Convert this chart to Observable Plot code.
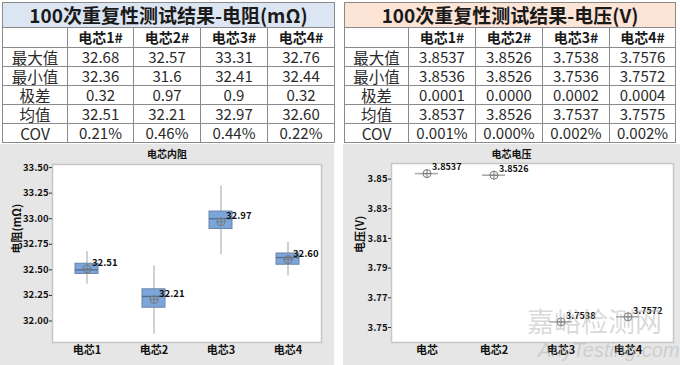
<!DOCTYPE html>
<html>
<head>
<meta charset="utf-8">
<script src="https://cdn.jsdelivr.net/npm/d3@7"></script>
<script src="https://cdn.jsdelivr.net/npm/@observablehq/plot@0.6"></script>
<style>
  html, body { margin: 0; padding: 0; background: #fff; }
  body { width: 680px; height: 365px; position: relative; overflow: hidden;
         font-family: "Noto Sans CJK SC", "Noto Sans", sans-serif; }
  table { position: absolute; border-collapse: collapse; table-layout: fixed; color: #1a1a1a; }
  td { border: 1px solid #8a8a8a; text-align: center; padding: 0; white-space: nowrap; }
  tr.title td { height: 24px; font-size: 19px; font-weight: bold; line-height: 24px; }
  tr.head td { height: 19px; font-size: 14px; font-weight: bold; line-height: 19px; }
  tr.row td { height: 18px; font-size: 15px; line-height: 18px; color: #2a2a2a; }
  tr.row td.lab { font-size: 15.5px; }
  .panel { position: absolute; background: #e6e6e6; }
  .ctitle { position: absolute; font-size: 10px; font-weight: bold; text-align: center; color: #111; }
  .wm { position: absolute; pointer-events: none; white-space: nowrap; }
</style>
</head>
<body>
<div id="root"></div>
<script>
// ---------- table data ----------
const colHeads = ["电芯1#", "电芯2#", "电芯3#", "电芯4#"];
const rowHeads = ["最大值", "最小值", "极差", "均值", "COV"];
const resTitle = "100次重复性测试结果-电阻(mΩ)";
const volTitle = "100次重复性测试结果-电压(V)";
const resMaxT  = ["32.68", "32.57", "33.31", "32.76"];
const resMinT  = ["32.36", "31.6", "32.41", "32.44"];
const resRngT  = ["0.32", "0.97", "0.9", "0.32"];
const resAvgT  = ["32.51", "32.21", "32.97", "32.60"];
const resCovT  = ["0.21%", "0.46%", "0.44%", "0.22%"];
const volMaxT  = ["3.8537", "3.8526", "3.7538", "3.7576"];
const volMinT  = ["3.8536", "3.8526", "3.7536", "3.7572"];
const volRngT  = ["0.0001", "0.0000", "0.0002", "0.0004"];
const volAvgT  = ["3.8537", "3.8526", "3.7537", "3.7575"];
const volCovT  = ["0.001%", "0.000%", "0.002%", "0.002%"];

// ---------- chart data ----------
const resCells = ["电芯1", "电芯2", "电芯3", "电芯4"];
const resWhiskLo = [32.36, 31.87, 32.65, 32.44];
const resQ1      = [32.46, 32.13, 32.90, 32.55];
const resMedian  = [32.50, 32.24, 33.00, 32.62];
const resQ3      = [32.56, 32.31, 33.07, 32.66];
const resWhiskHi = [32.68, 32.54, 33.32, 32.77];
const resMean    = [32.51, 32.21, 32.97, 32.60];
const resTicks   = [32.00, 32.25, 32.50, 32.75, 33.00, 33.25, 33.50];

const volCells  = ["电芯", "电芯2", "电芯3", "电芯4"];
const volMean   = [3.8537, 3.8526, 3.7538, 3.7572];
const volLabels = ["3.8537", "3.8526", "3.7538", "3.7572"];
const volTicks  = [3.75, 3.77, 3.79, 3.81, 3.83, 3.85];

const FONT = "'Noto Sans CJK SC', 'Noto Sans', sans-serif";
const root = document.getElementById("root");

function makeTable(left, widths, title, titleBg, rows) {
  const t = document.createElement("table");
  t.style.left = left + "px";
  t.style.top = "2px";
  t.style.width = widths.reduce((a, b) => a + b, 0) + "px";
  const cg = document.createElement("colgroup");
  widths.forEach(w => { const c = document.createElement("col"); c.style.width = w + "px"; cg.appendChild(c); });
  t.appendChild(cg);
  const tr0 = document.createElement("tr"); tr0.className = "title";
  const td0 = document.createElement("td"); td0.colSpan = 5; td0.textContent = title; td0.style.background = titleBg;
  tr0.appendChild(td0); t.appendChild(tr0);
  const tr1 = document.createElement("tr"); tr1.className = "head";
  [""].concat(colHeads).forEach(h => { const td = document.createElement("td"); td.textContent = h; tr1.appendChild(td); });
  t.appendChild(tr1);
  rows.forEach((vals, i) => {
    const tr = document.createElement("tr"); tr.className = "row";
    const th = document.createElement("td"); th.className = "lab"; th.textContent = rowHeads[i]; tr.appendChild(th);
    vals.forEach(v => { const td = document.createElement("td"); td.textContent = v; tr.appendChild(td); });
    t.appendChild(tr);
  });
  root.appendChild(t);
}

makeTable(2, [65, 66, 67, 67, 67], resTitle, "#dce6f2", [resMaxT, resMinT, resRngT, resAvgT, resCovT]);
makeTable(344, [64, 67, 67, 67, 66], volTitle, "#fce4d6", [volMaxT, volMinT, volRngT, volAvgT, volCovT]);

function panel(left, width) {
  const p = document.createElement("div");
  p.className = "panel";
  p.style.left = left + "px"; p.style.top = "144px";
  p.style.width = width + "px"; p.style.height = "221px";
  root.appendChild(p);
  return p;
}

// ---------- left chart: resistance box plot ----------
const resData = resCells.map((c, i) => ({
  cell: c, lo: resWhiskLo[i], q1: resQ1[i], med: resMedian[i], q3: resQ3[i], hi: resWhiskHi[i],
  mean: resMean[i], label: resMean[i].toFixed(2)
}));

const leftPanel = panel(0, 334);
const leftChart = Plot.plot({
  width: 334, height: 221,
  marginLeft: 52, marginRight: 13, marginTop: 20, marginBottom: 23,
  style: { background: "transparent", fontFamily: FONT, color: "#111", overflow: "visible" },
  x: { type: "band", domain: resCells, padding: 0 },
  y: { domain: [31.79, 33.53] },
  marks: [
    Plot.frame({ fill: "white", stroke: "#c6c6c6", strokeWidth: 1.5 }),
    Plot.axisY({ ticks: resTicks, tickFormat: d3.format(".2f"), tickSize: 3, tickPadding: 1,
                 fontSize: 9.5, fontWeight: "bold", label: null, stroke: "#333" }),
    Plot.axisX({ tickSize: 0, tickPadding: 4, fontSize: 11, fontWeight: "bold", label: null }),
    Plot.text(["电阻(mΩ)"], { text: d => d, frameAnchor: "left", rotate: -90, dx: -35,
                 fontSize: 11, fontWeight: "bold", fill: "#111" }),
    Plot.ruleX(resData, { x: "cell", y1: "lo", y2: "hi", stroke: "#c2c2c2", strokeWidth: 1.5 }),
    Plot.barY(resData, { x: "cell", y1: "q1", y2: "q3", insetLeft: 22, insetRight: 22,
                 fill: "#7aa6dc", stroke: "#6b84a6", strokeWidth: 1 }),
    Plot.tickY(resData, { x: "cell", y: "med", insetLeft: 22, insetRight: 22, stroke: "#56698a", strokeWidth: 1.3 }),
    Plot.dot(resData, { x: "cell", y: "mean", r: 4, symbol: "circle", stroke: "#7a7a7a", strokeWidth: 1, fill: "none" }),
    Plot.dot(resData, { x: "cell", y: "mean", r: 3, symbol: "plus", stroke: "#7a7a7a", strokeWidth: 1 }),
    Plot.text(resData, { x: "cell", y: "mean", text: "label", dx: 5, dy: -6, textAnchor: "start",
                 fontSize: 9.5, fontWeight: "bold", fill: "#111" })
  ]
});
leftPanel.appendChild(leftChart);
const lt = document.createElement("div");
lt.className = "ctitle"; lt.style.left = "0px"; lt.style.width = "334px"; lt.style.top = "2px";
lt.textContent = "电芯内阻";
leftPanel.appendChild(lt);

// ---------- right chart: voltage ----------
const volData = volCells.map((c, i) => ({ cell: c, mean: volMean[i], label: volLabels[i] }));

const rightPanel = panel(343, 337);
const rightChart = Plot.plot({
  width: 337, height: 221,
  marginLeft: 48, marginRight: 7, marginTop: 19, marginBottom: 23,
  style: { background: "transparent", fontFamily: FONT, color: "#111", overflow: "visible" },
  x: { type: "band", domain: volCells, padding: 0, insetRight: 11 },
  y: { domain: [3.7399, 3.8605] },
  marks: [
    Plot.frame({ fill: "white", stroke: "#c6c6c6", strokeWidth: 1.5 }),
    Plot.axisY({ ticks: volTicks, tickFormat: d3.format(".2f"), tickSize: 3, tickPadding: 1,
                 fontSize: 9.5, fontWeight: "bold", label: null, stroke: "#333" }),
    Plot.axisX({ tickSize: 0, tickPadding: 4, fontSize: 11, fontWeight: "bold", label: null }),
    Plot.text(["电压(V)"], { text: d => d, frameAnchor: "left", rotate: -90, dx: -31,
                 fontSize: 11, fontWeight: "bold", fill: "#111" }),
    Plot.tickY(volData, { x: "cell", y: "mean", insetLeft: 22, insetRight: 22, stroke: "#a8a8a8", strokeWidth: 1.5 }),
    Plot.dot(volData, { x: "cell", y: "mean", r: 4, symbol: "circle", stroke: "#7a7a7a", strokeWidth: 1, fill: "none" }),
    Plot.dot(volData, { x: "cell", y: "mean", r: 3, symbol: "plus", stroke: "#7a7a7a", strokeWidth: 1 }),
    Plot.text(volData, { x: "cell", y: "mean", text: "label", dx: 5, dy: -6, textAnchor: "start",
                 fontSize: 9, fontWeight: "bold", fill: "#111" })
  ]
});
rightPanel.appendChild(rightChart);
const rt = document.createElement("div");
rt.className = "ctitle"; rt.style.left = "0px"; rt.style.width = "337px"; rt.style.top = "2px";
rt.textContent = "电芯电压";
rightPanel.appendChild(rt);

// ---------- watermark ----------
const wm1 = document.createElement("div");
wm1.className = "wm"; wm1.textContent = "嘉峪检测网";
Object.assign(wm1.style, { left: "527px", top: "304px", fontSize: "27px", lineHeight: "33px",
  letterSpacing: "0px", color: "rgba(170,170,170,0.45)", fontFamily: FONT });
root.appendChild(wm1);
const wm2 = document.createElement("div");
wm2.className = "wm"; wm2.textContent = "AnyTesting.com";
Object.assign(wm2.style, { left: "538px", top: "338px", fontSize: "20px", lineHeight: "24px",
  fontStyle: "italic", color: "rgba(175,175,175,0.45)", fontFamily: "'Liberation Sans', sans-serif" });
root.appendChild(wm2);
</script>
</body>
</html>
